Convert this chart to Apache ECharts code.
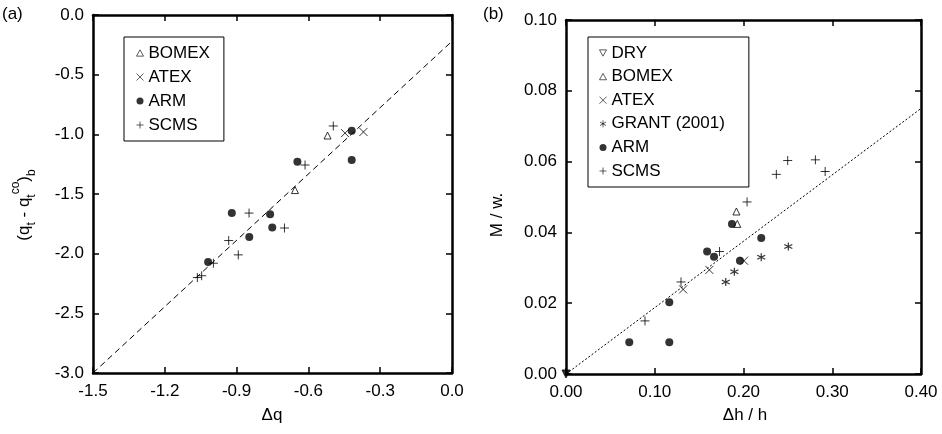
<!DOCTYPE html>
<html><head><meta charset="utf-8">
<script src="https://cdn.jsdelivr.net/npm/echarts@6/dist/echarts.min.js"></script>
<style>html,body{margin:0;padding:0;background:#fff}#c{width:942px;height:434px}</style>
</head><body><div id="c"></div>
<script>
// ---- Panel (a) data: [Δq, (qt - qt^co)_b]
const bomexA = [[-0.52,-1.01],[-0.656,-1.467]];
const atexA  = [[-0.447,-0.99],[-0.37,-0.98]];
const armA   = [[-0.419,-0.97],[-0.419,-1.215],[-0.646,-1.23],[-0.92,-1.66],[-0.76,-1.67],[-0.751,-1.78],[-0.847,-1.86],[-1.019,-2.07]];
const scmsA  = [[-0.496,-0.93],[-0.614,-1.257],[-0.848,-1.66],[-0.70,-1.785],[-0.933,-1.89],[-0.893,-2.01],[-0.997,-2.08],[-1.046,-2.185],[-1.064,-2.2]];
const fitA   = [[-1.5,-3.0],[0,-0.22]];
// ---- Panel (b) data: [Δh/h, M/w*]
const dryB   = [[0,0]];
const bomexB = [[0.192,0.0459],[0.193,0.0424]];
const atexB  = [[0.2006,0.032],[0.1615,0.0294],[0.132,0.0239]];
const grantB = [[0.2505,0.036],[0.220,0.033],[0.1897,0.0289],[0.180,0.026]];
const armB   = [[0.187,0.0424],[0.220,0.0384],[0.159,0.0346],[0.1668,0.0331],[0.196,0.032],[0.1164,0.0203],[0.0713,0.009],[0.1164,0.009]];
const scmsB  = [[0.2498,0.0603],[0.281,0.0605],[0.237,0.0564],[0.292,0.0572],[0.204,0.0486],[0.173,0.0346],[0.1296,0.026],[0.089,0.015]];
const fitB   = [[0,0],[0.4,0.075]];
// ---- legend entries
const legendA = ['BOMEX','ATEX','ARM','SCMS'];
const legendB = ['DRY','BOMEX','ATEX','GRANT (2001)','ARM','SCMS'];

const FONT = "'Liberation Sans', Arial, sans-serif";
const K = '#000';
const DTRI = 'path://M0,0L10,0L5,9Z';
const UTRI = 'path://M5,0L10,9L0,9Z';
const XP = 'path://M0,0L10,10M0,10L10,0';
const PP = 'path://M5,0L5,10M0,5L10,5';
const AP = 'path://M5,0L5,10M0.7,2.5L9.3,7.5M0.7,7.5L9.3,2.5';
const sym = {
  tri:  {symbol:'triangle', symbolSize:7, itemStyle:{color:'#fff', borderColor:K, borderWidth:1}},
  dtri: {symbol:DTRI, symbolSize:8, itemStyle:{color:K, borderColor:K, borderWidth:1}},
  x:    {symbol:XP, symbolSize:8, itemStyle:{color:'none', borderColor:K, borderWidth:1}},
  plus: {symbol:PP, symbolSize:9, itemStyle:{color:'none', borderColor:K, borderWidth:1}},
  ast:  {symbol:AP, symbolSize:8, itemStyle:{color:'none', borderColor:K, borderWidth:1.2}},
  dot:  {symbol:'circle', symbolSize:8, itemStyle:{color:K}}
};
const legendIcons = {
  'DRY':          {icon:DTRI, itemStyle:{color:'#fff', borderColor:K, borderWidth:0.8}},
  'BOMEX':        {icon:UTRI, itemStyle:{color:'#fff', borderColor:K, borderWidth:0.8}},
  'ATEX':         {icon:XP, itemStyle:{color:'none', borderColor:K, borderWidth:0.8}},
  'GRANT (2001)': {icon:AP, itemStyle:{color:'none', borderColor:K, borderWidth:0.8}},
  'ARM':          {icon:'circle', itemStyle:{color:K, borderWidth:0}},
  'SCMS':         {icon:PP, itemStyle:{color:'none', borderColor:K, borderWidth:0.8}}
};
function sc(name, data, s, xi, yi){
  return Object.assign({type:'scatter', name, data, xAxisIndex:xi, yAxisIndex:yi, clip:false, z:5}, JSON.parse(JSON.stringify(s)));
}
const axLine = {show:true, onZero:false, lineStyle:{color:K, width:2.5}};
const tick = {show:true, inside:true, length:6, lineStyle:{color:K, width:1.5}};
const lbl = (d, m) => ({show:true, color:K, fontSize:17, fontFamily:FONT, margin:m, formatter:v=>v.toFixed(d)});
function xa(grid,min,max,interval,d,pos,show){
  return {type:'value', gridIndex:grid, position:pos, min, max, interval, axisLine:axLine, axisTick:tick,
    axisLabel: show? lbl(d,10) : {show:false}, splitLine:{show:false}};
}
function ya(grid,min,max,interval,d,pos,show){
  return {type:'value', gridIndex:grid, position:pos, min, max, interval, axisLine:axLine, axisTick:tick,
    axisLabel: show? lbl(d,9) : {show:false}, splitLine:{show:false}};
}
const legendText = {color:K, fontSize:17, fontFamily:FONT, lineHeight:20};
const legendData = names => names.map(n => Object.assign({name:n}, legendIcons[n]));
const option = {
  animation:false,
  backgroundColor:'#fff',
  grid:[
    {left:93, right:490, top:15, bottom:61},
    {left:566, right:21, top:20, bottom:60}
  ],
  xAxis:[
    xa(0,-1.5,0,0.3,1,'bottom',true),
    xa(0,-1.5,0,0.3,1,'top',false),
    xa(1,0,0.4,0.1,2,'bottom',true),
    xa(1,0,0.4,0.1,2,'top',false)
  ],
  yAxis:[
    ya(0,-3,0,0.5,1,'left',true),
    ya(0,-3,0,0.5,1,'right',false),
    ya(1,0,0.1,0.02,2,'left',true),
    ya(1,0,0.1,0.02,2,'right',false)
  ],
  legend:[
    {data:legendData(legendA), orient:'vertical', left:124, top:37, padding:[6,14,6,10], itemGap:4, itemWidth:7, itemHeight:7,
     borderColor:K, borderWidth:1, textStyle:legendText, selectedMode:false},
    {data:legendData(legendB), orient:'vertical', left:588, top:37, padding:[6,24,6,9], itemGap:3.6, itemWidth:7, itemHeight:7,
     borderColor:K, borderWidth:1, textStyle:legendText, selectedMode:false}
  ],
  series:[
    {type:'line', data:fitA, xAxisIndex:0, yAxisIndex:0, symbol:'none', silent:true, lineStyle:{color:K, width:1, type:[6,4]}, z:2},
    sc('BOMEX', bomexA, sym.tri, 0, 0),
    sc('ATEX', atexA, sym.x, 0, 0),
    sc('ARM', armA, sym.dot, 0, 0),
    sc('SCMS', scmsA, sym.plus, 0, 0),
    {type:'line', data:fitB, xAxisIndex:2, yAxisIndex:2, symbol:'none', silent:true, lineStyle:{color:K, width:1, type:[2,2]}, z:2},
    sc('DRY', dryB, sym.dtri, 2, 2),
    sc('BOMEX', bomexB, sym.tri, 2, 2),
    sc('ATEX', atexB, sym.x, 2, 2),
    sc('GRANT (2001)', grantB, sym.ast, 2, 2),
    sc('ARM', armB, sym.dot, 2, 2),
    sc('SCMS', scmsB, sym.plus, 2, 2)
  ],
  graphic:[
    {type:'text', left:2, top:6, style:{text:'(a)', fill:K, font:'17px '+FONT}},
    {type:'text', left:483, top:6, style:{text:'(b)', fill:K, font:'17px '+FONT}},
    {type:'text', x:272, y:415, style:{text:'Δq', fill:K, font:'17px '+FONT, align:'center', verticalAlign:'middle'}},
    {type:'text', x:745, y:415, style:{text:'Δh / h', fill:K, font:'17px '+FONT, align:'center', verticalAlign:'middle'}},
    {type:'text', x:24, y:205, rotation:Math.PI/2,
     style:{text:'{n|(q}{s|t}{n| - q}{s|t}{p|co}{n|)}{s|b}', align:'center', verticalAlign:'middle', fill:K,
       rich:{
         n:{fontSize:17, fontFamily:FONT, lineHeight:28, verticalAlign:'middle', fill:K},
         s:{fontSize:12, fontFamily:FONT, lineHeight:14, verticalAlign:'bottom', fill:K},
         p:{fontSize:12, fontFamily:FONT, lineHeight:14, verticalAlign:'top', fill:K}
       }}},
    {type:'text', x:497, y:215, rotation:Math.PI/2,
     style:{text:'M / w.', fill:K, font:'17px '+FONT, align:'center', verticalAlign:'middle'}}
  ]
};
echarts.init(document.getElementById('c')).setOption(option);
</script></body></html>
